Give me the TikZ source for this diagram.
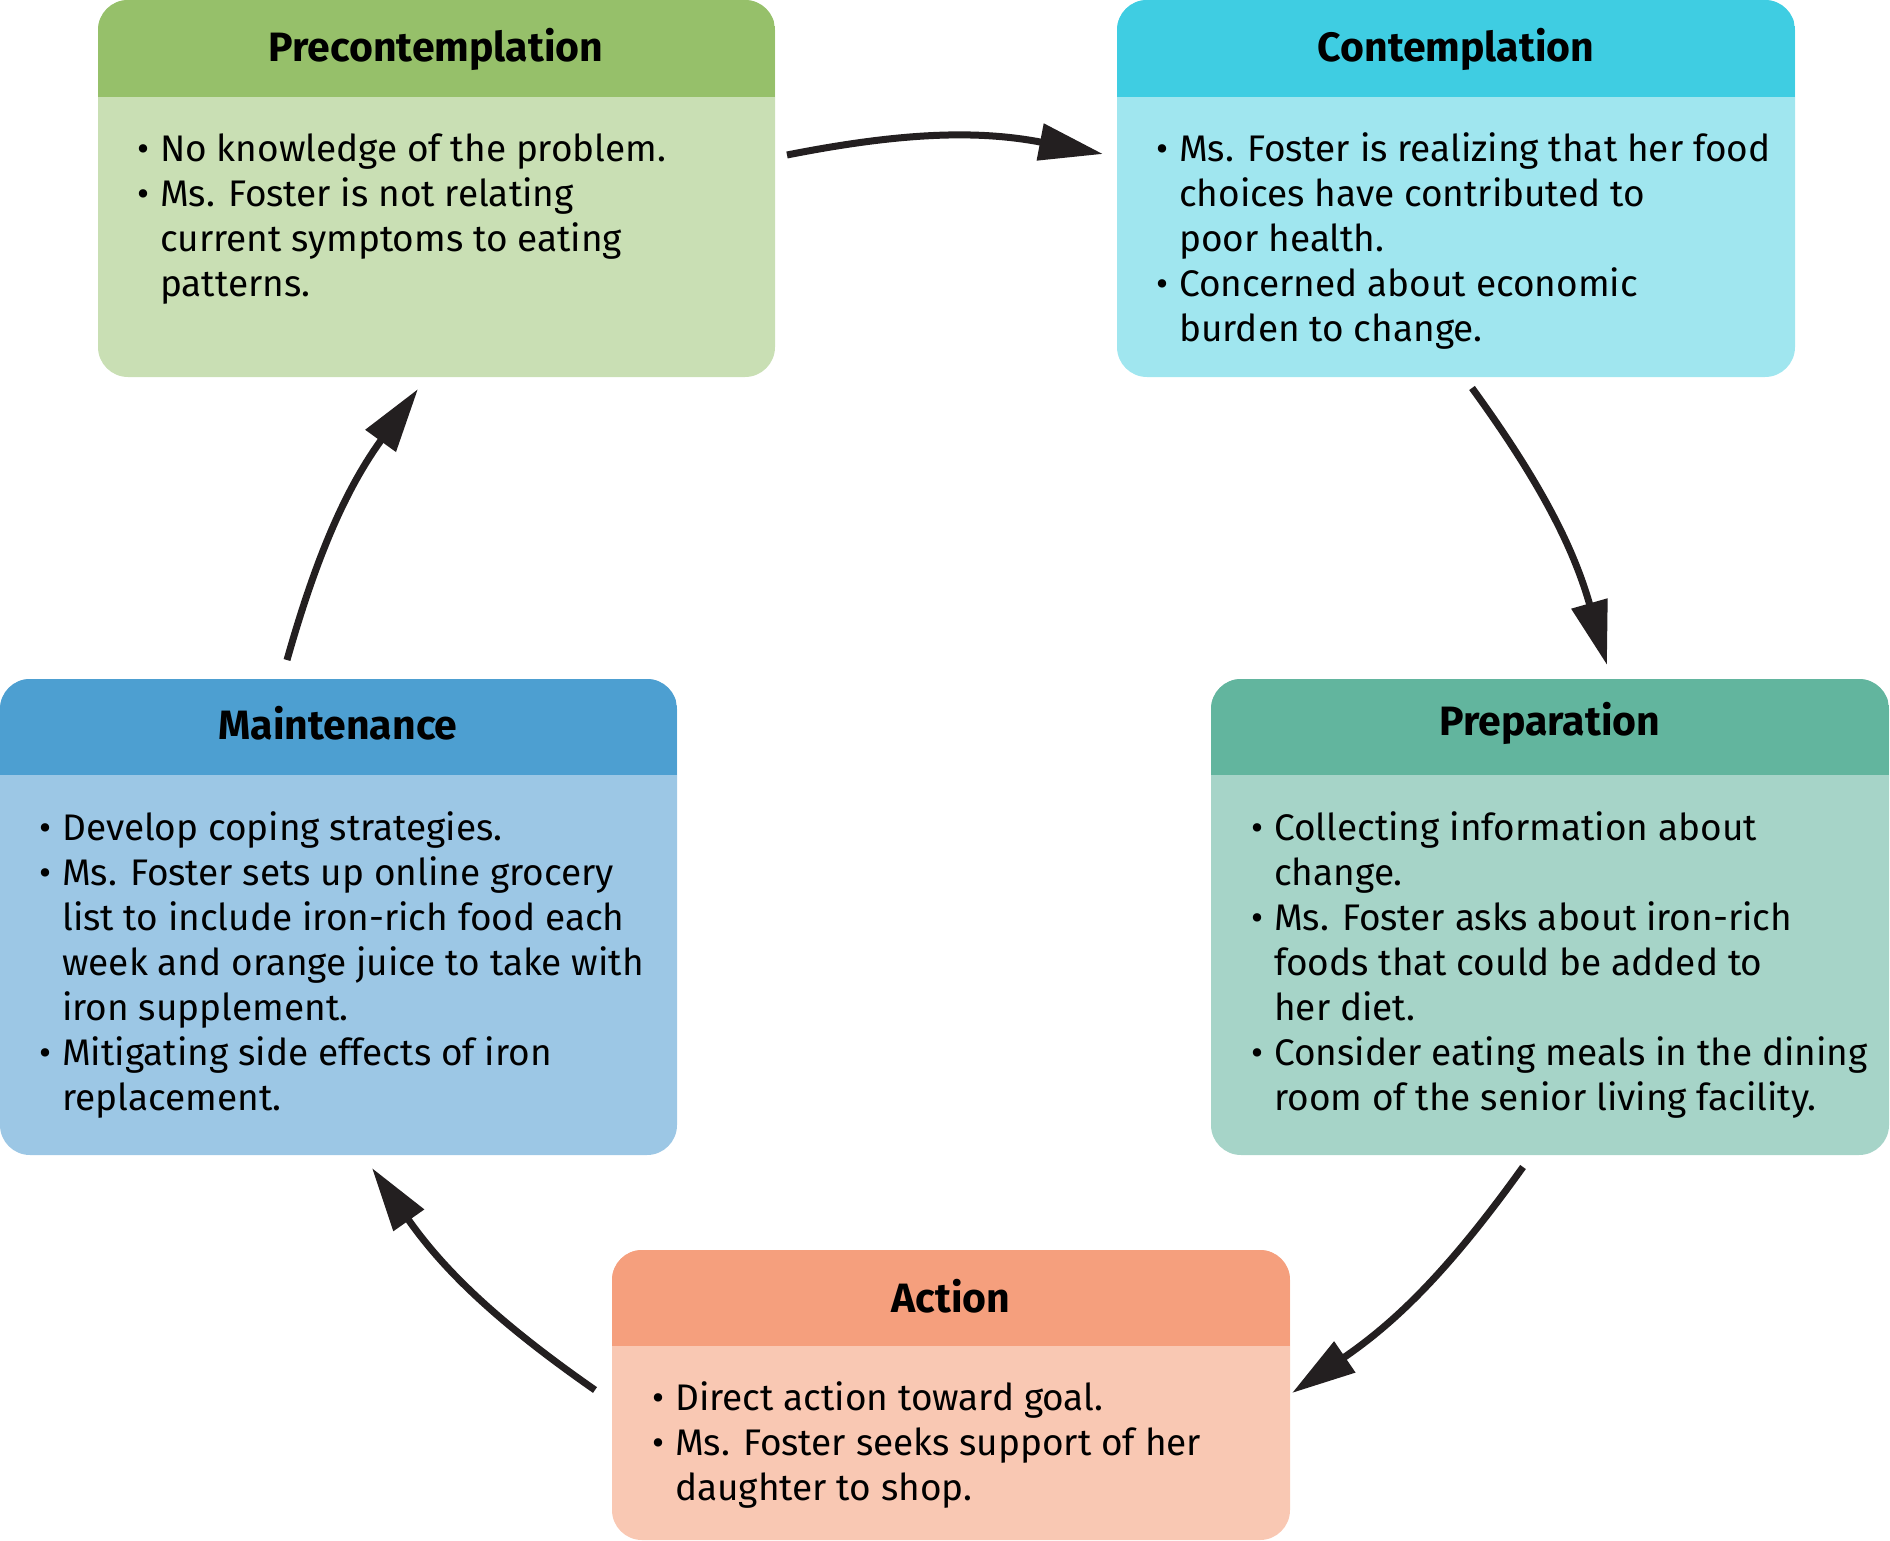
\documentclass[tikz,border=0pt]{standalone}
\usepackage{fontspec}
\setmainfont{Fira Sans}
\usetikzlibrary{arrows.meta}
\definecolor{prehead}{RGB}{150,192,106}
\definecolor{prebody}{RGB}{201,223,180}
\definecolor{conhead}{RGB}{63,205,226}
\definecolor{conbody}{RGB}{160,230,239}
\definecolor{prephead}{RGB}{98,181,158}
\definecolor{prepbody}{RGB}{166,212,200}
\definecolor{mainthead}{RGB}{77,159,209}
\definecolor{maintbody}{RGB}{156,199,229}
\definecolor{acthead}{RGB}{245,159,125}
\definecolor{actbody}{RGB}{249,200,179}
\definecolor{arrowc}{RGB}{35,31,32}
\newcommand\bul{\makebox[23pt][l]{•}}
\newcommand\ind{\hspace*{23pt}}
\newcommand\bodytxt[1]{\parbox[t]{640pt}{\fontsize{37}{45}\selectfont\raggedright #1}}
\newcommand\stagebox[8]{% name, x1, y1, x2, y2, yh, head, body
  \node[stagebg, fill=#8, minimum width={(#4-#2)*1pt}, minimum height={(#5-#3)*1pt}] (#1) at ({(#2+#4)/2},{(#3+#5)/2}) {};
  \begin{scope}
    \clip[rounded corners=30pt] (#2,#3) rectangle (#4,#5);
    \fill[#7] (#2,#3) rectangle (#4,#6);
  \end{scope}
}
\begin{document}
\begin{tikzpicture}[x=1pt,y=-1pt,
  stagebg/.style={rectangle, rounded corners=30pt, inner sep=0pt, draw=none},
  headtxt/.style={anchor=base, inner sep=0pt, font=\fontsize{41}{50}\selectfont\bfseries},
  bodynode/.style={anchor=base west, inner sep=0pt},
  cyc/.style={draw=arrowc, line width=7pt, -{Triangle[length=64pt,width=36pt]}}]
\useasboundingbox (0,0) rectangle (1890,1541);

\stagebox{pre}{98}{0}{775}{377}{97}{prehead}{prebody}
\stagebox{con}{1117}{0}{1795}{377}{97}{conhead}{conbody}
\stagebox{prep}{1211}{679}{1889}{1155}{775}{prephead}{prepbody}
\stagebox{maint}{0}{679}{677}{1155}{775}{mainthead}{maintbody}
\stagebox{act}{612}{1250}{1290}{1540}{1346}{acthead}{actbody}

\node[headtxt] (preT) at (436,62) {Precontemplation};
\node[headtxt] (conT) at (1456,62) {Contemplation};
\node[headtxt] (prepT) at (1550,735) {Preparation};
\node[headtxt] (maintT) at (338,739) {Maintenance};
\node[headtxt] (actT) at (951,1312) {Action};

\node[bodynode] (preB) at (137,162) {\bodytxt{\bul No knowledge of the problem.\\
\bul Ms. Foster is not relating\\
\ind current symptoms to eating\\
\ind patterns.}};
\node[bodynode] (conB) at (1156,162) {\bodytxt{\bul Ms. Foster is realizing that her food\\
\ind choices have contributed to\\
\ind poor health.\\
\bul Concerned about economic\\
\ind burden to change.}};
\node[bodynode] (prepB) at (1251,840) {\bodytxt{\bul Collecting information about\\
\ind change.\\
\bul Ms. Foster asks about iron-rich\\
\ind foods that could be added to\\
\ind her diet.\\
\bul Consider eating meals in the dining\\
\ind room of the senior living facility.}};
\node[bodynode] (maintB) at (39,840) {\bodytxt{\bul Develop coping strategies.\\
\bul Ms. Foster sets up online grocery\\
\ind list to include iron-rich food each\\
\ind week and orange juice to take with\\
\ind iron supplement.\\
\bul Mitigating side effects of iron\\
\ind replacement.}};
\node[bodynode] (actB) at (652,1410) {\bodytxt{\bul Direct action toward goal.\\
\bul Ms. Foster seeks support of her\\
\ind daughter to shop.}};

\coordinate (a1s) at (787,155);
\coordinate (a1e) at (1103,154);
\coordinate (a2s) at (1472,388);
\coordinate (a2e) at (1607,665);
\coordinate (a3s) at (1523,1167);
\coordinate (a3e) at (1292,1393);
\coordinate (a4s) at (595,1390);
\coordinate (a4e) at (372,1168);
\coordinate (a5s) at (287,660);
\coordinate (a5e) at (418,389);

\draw[cyc] (a1s) to[bend left=11] (a1e);
\draw[cyc] (a2s) to[bend left=10] (a2e);
\draw[cyc] (a3s) to[bend left=10] (a3e);
\draw[cyc] (a4s) to[bend left=10] (a4e);
\draw[cyc] (a5s) to[bend left=10] (a5e);
\end{tikzpicture}
\end{document}
